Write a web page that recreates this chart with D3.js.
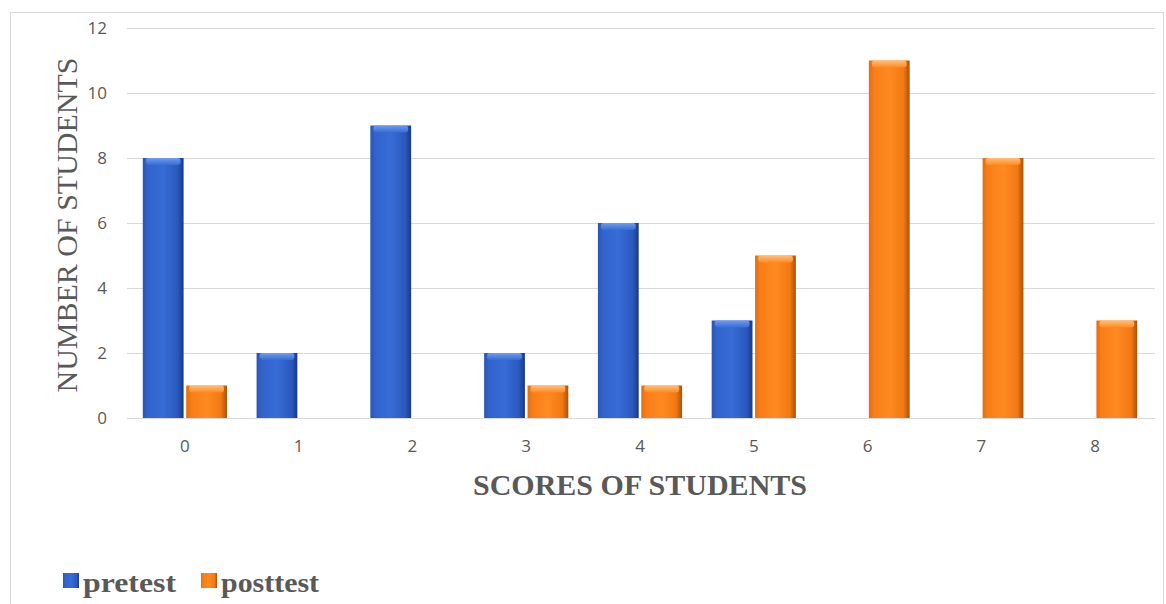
<!DOCTYPE html>
<html><head><meta charset="utf-8">
<script src="https://cdn.jsdelivr.net/npm/d3@7"></script>
<style>body{margin:0;background:#fff}svg{display:block}</style>
</head><body>
<script>
const categories = ["0","1","2","3","4","5","6","7","8"];
const pretest  = [8, 2, 9, 2, 6, 3, 0, 0, 0];
const posttest = [1, 0, 0, 1, 1, 5, 11, 8, 3];
const yTicks = [0, 2, 4, 6, 8, 10, 12];
const seriesNames = ["pretest", "posttest"];

const W = 1166, H = 604;
const svg = d3.select("body").append("svg").attr("width", W).attr("height", H);

// frame
svg.append("rect").attr("x", 10.5).attr("y", 12.5).attr("width", 1153).attr("height", 620)
  .attr("fill", "none").attr("stroke", "#d9d9d9").attr("stroke-width", 1);

const plot = {left: 128, right: 1152, top: 28, bottom: 418};
const x = d3.scaleBand().domain(categories).range([plot.left, plot.right]).paddingInner(0.26).paddingOuter(0.13);
const x1 = d3.scaleBand().domain(seriesNames).range([0, x.bandwidth()]).paddingInner(0.06);
const y = d3.scaleLinear().domain([0, 12]).range([plot.bottom, plot.top]);

// gradients
const defs = svg.append("defs");
function grad(id, stops, vertical) {
  const g = defs.append("linearGradient").attr("id", id)
    .attr("x1", 0).attr("y1", 0).attr("x2", vertical ? 0 : 1).attr("y2", vertical ? 1 : 0);
  stops.forEach(s => g.append("stop").attr("offset", s[0]).attr("stop-color", s[1]));
}
grad("gBlue", [[0, "#2a55b4"], [0.12, "#3163cb"], [0.5, "#376cd6"], [0.85, "#2a59be"], [1, "#1a3a85"]]);
grad("gOrange", [[0, "#e56d0e"], [0.12, "#f97d16"], [0.5, "#ff8a22"], [0.85, "#f27812"], [1, "#a8520c"]]);
grad("gBlueTop", [[0, "#6f9cf0"], [1, "#376cd6"]], true);
grad("gOrangeTop", [[0, "#ffc07a"], [1, "#ff8a22"]], true);

// grid
const grid = svg.append("g");
grid.selectAll("line").data(yTicks).join("line")
  .attr("x1", plot.left - 1).attr("x2", plot.right + 3)
  .attr("y1", d => Math.round(y(d)) + 0.5).attr("y2", d => Math.round(y(d)) + 0.5)
  .attr("stroke", "#d9d9d9").attr("stroke-width", 1);

// y axis labels
const yAxis = d3.axisLeft(y).tickValues(yTicks).tickSize(0).tickPadding(0);
const ya = svg.append("g").attr("transform", `translate(107,0)`).call(yAxis);
ya.select(".domain").remove();
ya.selectAll("text").attr("fill", "#595959").attr("font-family", "Open Sans, Liberation Sans, sans-serif").attr("font-size", 17);

// x axis labels
const xAxis = d3.axisBottom(x).tickSize(0).tickPadding(0);
const xa = svg.append("g").attr("transform", `translate(0,${plot.bottom + 22})`).call(xAxis);
xa.select(".domain").remove();
xa.selectAll("text").attr("fill", "#595959").attr("font-family", "Open Sans, Liberation Sans, sans-serif").attr("font-size", 17);

// bars
const data = [];
categories.forEach((c, i) => {
  data.push({c, s: "pretest", v: pretest[i]});
  data.push({c, s: "posttest", v: posttest[i]});
});
const bars = svg.append("g").selectAll("g").data(data.filter(d => d.v > 0)).join("g")
  .attr("transform", d => `translate(${x(d.c) + x1(d.s)},0)`);
bars.append("rect")
  .attr("x", 0).attr("y", d => y(d.v)).attr("width", x1.bandwidth())
  .attr("height", d => y(0) - y(d.v))
  .attr("fill", d => d.s === "pretest" ? "url(#gBlue)" : "url(#gOrange)");
bars.append("rect")
  .attr("x", 3).attr("y", d => y(d.v)).attr("width", x1.bandwidth() - 6)
  .attr("height", 7).attr("rx", 3)
  .attr("fill", d => d.s === "pretest" ? "url(#gBlueTop)" : "url(#gOrangeTop)");

// axis titles
svg.append("text").attr("transform", `translate(77,${(plot.top + plot.bottom) / 2 + 2}) rotate(-90)`)
  .attr("text-anchor", "middle").attr("fill", "#595959")
  .attr("font-family", "Liberation Serif, Times New Roman, serif").attr("font-size", 30)
  .text("NUMBER OF STUDENTS");
svg.append("text").attr("x", 640).attr("y", 495)
  .attr("text-anchor", "middle").attr("fill", "#595959").attr("font-weight", "bold")
  .attr("font-family", "Liberation Serif, Times New Roman, serif").attr("font-size", 30)
  .text("SCORES OF STUDENTS");

// legend
const legX = [63, 201];
const legW = [93, 98];
const leg = svg.append("g").selectAll("g").data(seriesNames).join("g")
  .attr("transform", (d, i) => `translate(${legX[i]},0)`);
leg.append("rect").attr("x", 0).attr("y", 573).attr("width", 16).attr("height", 15)
  .attr("fill", d => d === "pretest" ? "url(#gBlue)" : "url(#gOrange)");
leg.append("text").attr("x", 20).attr("y", 592).attr("fill", "#595959").attr("font-weight", "bold")
  .attr("font-family", "Liberation Serif, Times New Roman, serif").attr("font-size", 28)
  .attr("textLength", (d, i) => legW[i]).attr("lengthAdjust", "spacingAndGlyphs")
  .text(d => d);
</script>
</body></html>
